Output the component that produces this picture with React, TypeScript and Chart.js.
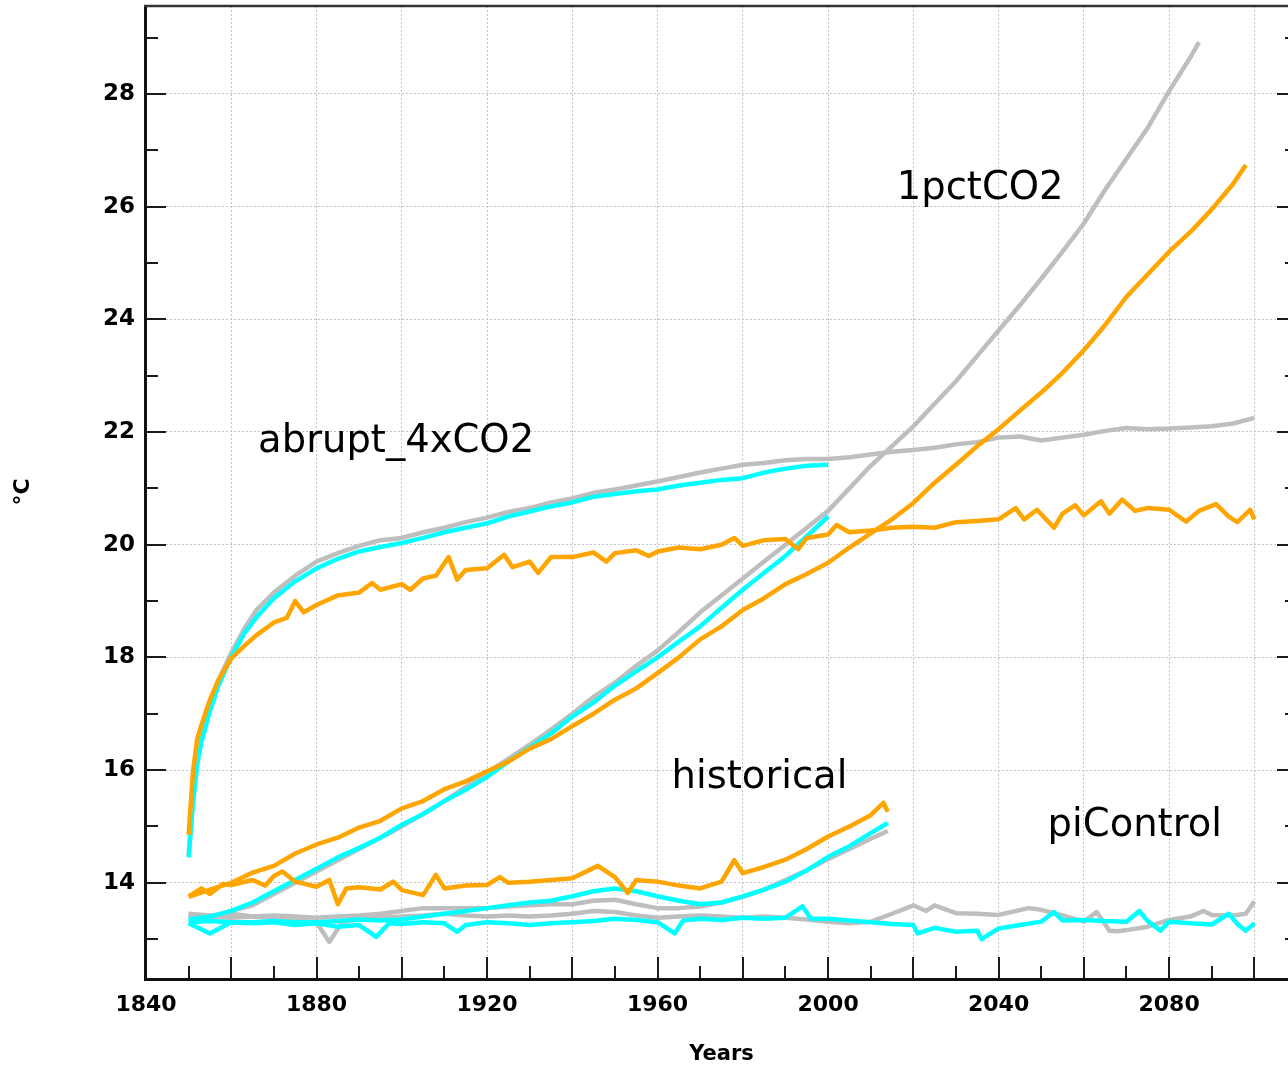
import React, { useEffect, useRef } from "react";
import { Chart, registerables } from "chart.js";

Chart.register(...registerables);

// ---------- data ----------
const years5 = [
  1850, 1855, 1860, 1865, 1870, 1875, 1880, 1885, 1890, 1895, 1900, 1905, 1910, 1915, 1920, 1925, 1930,
  1935, 1940, 1945, 1950, 1955, 1960, 1965, 1970, 1975, 1980, 1985, 1990, 1995, 2000, 2005, 2010, 2015,
  2020, 2025, 2030, 2035, 2040, 2045, 2050, 2055, 2060, 2065, 2070, 2075, 2080, 2085, 2090, 2095, 2100,
];

const yearsAbrupt = [
  1850, 1851, 1852, 1853, 1855, 1857, 1860, 1863, 1866, 1870, 1875, 1880, 1885, 1890, 1895, 1900, 1905,
  1910, 1915, 1920, 1925, 1930, 1935, 1940, 1945, 1950, 1955, 1960, 1965, 1970, 1975, 1980, 1985, 1990,
  1995, 2000, 2005, 2010, 2015, 2020, 2025, 2030, 2035, 2040, 2045, 2050, 2055, 2060, 2065, 2070, 2075,
  2080, 2085, 2090, 2095, 2100,
];

const yearsAbruptOrange = [
  1850, 1851, 1852, 1853, 1855, 1857, 1860, 1863, 1866, 1870, 1873, 1875, 1877, 1880, 1885, 1890, 1893,
  1895, 1900, 1902, 1905, 1908, 1911, 1913, 1915, 1920, 1924, 1926, 1930, 1932, 1935, 1940, 1945, 1948,
  1950, 1955, 1958, 1960, 1965, 1970, 1975, 1978, 1980, 1985, 1990, 1993, 1995, 2000, 2002, 2005, 2010,
  2015, 2020, 2025, 2030, 2035, 2040, 2044, 2046, 2049, 2053, 2055, 2058, 2060, 2064, 2066, 2069, 2072,
  2075, 2080, 2084, 2087, 2091, 2094, 2096, 2099, 2100,
];

const yearsHist = [
  1850, 1855, 1860, 1865, 1870, 1875, 1880, 1885, 1890, 1895, 1900, 1905, 1910, 1915, 1920, 1925, 1930,
  1935, 1940, 1945, 1950, 1955, 1960, 1965, 1970, 1975, 1980, 1985, 1990, 1995, 2000, 2005, 2010, 2014,
];

const yearsHistOrange = [
  1850, 1853, 1855, 1858, 1860, 1865, 1868, 1870, 1872, 1875, 1880, 1883, 1885, 1887, 1890, 1895, 1898,
  1900, 1905, 1908, 1910, 1915, 1920, 1923, 1925, 1930, 1935, 1940, 1946, 1950, 1953, 1955, 1960, 1965,
  1970, 1975, 1978, 1980, 1985, 1990, 1995, 2000, 2005, 2010, 2013, 2014,
];

const yearsPctGrey = [
  1850, 1855, 1860, 1865, 1870, 1875, 1880, 1885, 1890, 1895, 1900, 1905, 1910, 1915, 1920, 1925, 1930,
  1935, 1940, 1945, 1950, 1955, 1960, 1965, 1970, 1975, 1980, 1985, 1990, 1995, 2000, 2005, 2010, 2015,
  2020, 2025, 2030, 2035, 2040, 2045, 2050, 2055, 2060, 2065, 2070, 2075, 2080, 2085, 2087,
];

const yearsPctOrange = [
  1850, 1855, 1860, 1865, 1870, 1875, 1880, 1885, 1890, 1895, 1900, 1905, 1910, 1915, 1920, 1925, 1930,
  1935, 1940, 1945, 1950, 1955, 1960, 1965, 1970, 1975, 1980, 1985, 1990, 1995, 2000, 2005, 2010, 2015,
  2020, 2025, 2030, 2035, 2040, 2045, 2050, 2055, 2060, 2065, 2070, 2075, 2080, 2085, 2090, 2095, 2098,
];

const yearsPiCyan = [
  1850, 1855, 1860, 1865, 1870, 1875, 1880, 1885, 1890, 1894, 1897, 1900, 1905, 1910, 1913, 1915, 1920,
  1925, 1930, 1935, 1940, 1945, 1950, 1955, 1960, 1964, 1966, 1970, 1975, 1980, 1985, 1990, 1994, 1996,
  2000, 2005, 2010, 2015, 2020, 2021, 2025, 2030, 2035, 2036, 2040, 2045, 2050, 2053, 2055, 2060, 2065,
  2070, 2073, 2075, 2078, 2080, 2085, 2090, 2094, 2096, 2098, 2100,
];

const yearsPiGrey = [
  1850, 1855, 1860, 1865, 1870, 1875, 1880, 1883, 1886, 1890, 1895, 1900, 1905, 1910, 1915, 1920, 1925,
  1930, 1935, 1940, 1945, 1950, 1955, 1960, 1965, 1970, 1975, 1980, 1985, 1990, 1995, 2000, 2005, 2010,
  2015, 2020, 2023, 2025, 2030, 2035, 2040, 2047, 2050, 2055, 2060, 2063, 2066, 2068, 2070, 2075, 2080,
  2085, 2088, 2090, 2095, 2098, 2100,
];

// abrupt_4xCO2
const abruptOrange = [
  14.85, 15.95, 16.55, 16.8, 17.25, 17.6, 17.98, 18.2, 18.4, 18.62, 18.7, 19.0, 18.8, 18.93, 19.1, 19.15,
  19.32, 19.2, 19.3, 19.2, 19.4, 19.45, 19.78, 19.38, 19.55, 19.58, 19.82, 19.6, 19.7, 19.5, 19.78, 19.78,
  19.86, 19.7, 19.85, 19.9, 19.8, 19.88, 19.95, 19.92, 20.0, 20.12, 19.98, 20.08, 20.1, 19.92, 20.12, 20.18,
  20.35, 20.22, 20.25, 20.3, 20.32, 20.3, 20.4, 20.42, 20.45, 20.65, 20.45, 20.62, 20.3, 20.55, 20.7, 20.52,
  20.77, 20.55, 20.8, 20.6, 20.65, 20.62, 20.41, 20.6, 20.72, 20.5, 20.4, 20.62, 20.45,
];
const abruptCyan = [
  14.45, 15.4, 16.1, 16.5, 17.05, 17.5, 18.0, 18.42, 18.72, 19.05, 19.35, 19.58, 19.75, 19.88, 19.96, 20.03,
  20.12, 20.22, 20.3, 20.38, 20.5, 20.59, 20.68, 20.75, 20.85, 20.9, 20.95, 20.98, 21.05, 21.1, 21.15, 21.18,
  21.28, 21.35, 21.4, 21.42,
];
const abruptGrey = [
  14.5, 15.5, 16.2, 16.6, 17.15, 17.6, 18.08, 18.5, 18.85, 19.15, 19.45, 19.7, 19.85, 19.98, 20.08, 20.12,
  20.22, 20.3, 20.4, 20.48, 20.58, 20.65, 20.75, 20.82, 20.92, 20.98, 21.05, 21.12, 21.2, 21.28, 21.35, 21.42,
  21.45, 21.5, 21.52, 21.52, 21.55, 21.6, 21.65, 21.68, 21.72, 21.78, 21.82, 21.9, 21.92, 21.85, 21.9, 21.95,
  22.02, 22.07, 22.05, 22.06, 22.08, 22.1, 22.15, 22.25,
];

// 1pctCO2
const pctOrange = [
  13.75, 13.88, 14.0, 14.18, 14.3, 14.52, 14.68, 14.8, 14.98, 15.1, 15.32, 15.45, 15.66, 15.8, 15.98, 16.15,
  16.38, 16.55, 16.78, 17.0, 17.25, 17.45, 17.72, 18.0, 18.32, 18.55, 18.84, 19.05, 19.3, 19.48, 19.68, 19.95,
  20.2, 20.45, 20.74, 21.1, 21.42, 21.75, 22.05, 22.38, 22.7, 23.05, 23.45, 23.9, 24.4, 24.8, 25.2, 25.55,
  25.95, 26.4, 26.74,
];
const pctCyan = [
  13.35, 13.4, 13.5, 13.65, 13.85, 14.05, 14.25, 14.45, 14.62, 14.8, 15.03, 15.22, 15.45, 15.65, 15.88, 16.15,
  16.4, 16.65, 16.95, 17.2, 17.5, 17.75, 18.0, 18.28, 18.55, 18.88, 19.2, 19.5, 19.8, 20.15, 20.5,
];
const pctGrey = [
  13.4, 13.38, 13.5, 13.6, 13.8, 14.0, 14.2, 14.4, 14.6, 14.8, 15.0, 15.22, 15.45, 15.7, 15.95, 16.2, 16.45,
  16.72, 17.0, 17.3, 17.55, 17.85, 18.12, 18.45, 18.8, 19.1, 19.4, 19.7, 20.0, 20.3, 20.6, 21.0, 21.4, 21.75,
  22.1, 22.5, 22.9, 23.35, 23.8, 24.25, 24.72, 25.2, 25.7, 26.3, 26.85, 27.4, 28.05, 28.65, 28.92,
];

// historical
const histOrange = [
  13.76, 13.9, 13.8, 13.98, 13.96, 14.05, 13.95, 14.12, 14.2, 14.02, 13.93, 14.05, 13.62, 13.9, 13.92, 13.88,
  14.02, 13.87, 13.78, 14.14, 13.9, 13.95, 13.96, 14.1, 14.0, 14.02, 14.05, 14.08, 14.3, 14.1, 13.82, 14.05,
  14.02, 13.95, 13.9, 14.02, 14.4, 14.17, 14.28, 14.41, 14.6, 14.82, 15.0, 15.2, 15.42, 15.26,
];
const histCyan = [
  13.3, 13.32, 13.3, 13.3, 13.32, 13.3, 13.3, 13.32, 13.35, 13.33, 13.35, 13.4, 13.45, 13.5, 13.55, 13.6,
  13.65, 13.68, 13.76, 13.85, 13.9, 13.85, 13.76, 13.68, 13.62, 13.65, 13.76, 13.88, 14.02, 14.22, 14.46,
  14.65, 14.88, 15.06,
];
const histGrey = [
  13.45, 13.42, 13.45, 13.4, 13.42, 13.4, 13.38, 13.4, 13.42, 13.45, 13.5, 13.55, 13.55, 13.55, 13.55, 13.58,
  13.6, 13.62, 13.62, 13.68, 13.7, 13.62, 13.55, 13.55, 13.58, 13.65, 13.75, 13.88, 14.05, 14.22, 14.42,
  14.6, 14.78, 14.92,
];

// piControl
const piCyan = [
  13.28, 13.1, 13.3, 13.28, 13.3, 13.25, 13.28, 13.22, 13.25, 13.04, 13.28, 13.27, 13.3, 13.28, 13.13, 13.25,
  13.3, 13.28, 13.25, 13.28, 13.3, 13.32, 13.36, 13.34, 13.3, 13.1, 13.33, 13.36, 13.34, 13.38, 13.36, 13.38,
  13.58, 13.36, 13.36, 13.33, 13.3, 13.27, 13.25, 13.1, 13.2, 13.13, 13.15, 13.0, 13.19, 13.25, 13.31,
  13.48, 13.33, 13.34, 13.32, 13.31, 13.5, 13.32, 13.15, 13.31, 13.28, 13.26, 13.45, 13.27, 13.15, 13.28,
];
const piGrey = [
  13.42, 13.4, 13.38, 13.4, 13.38, 13.35, 13.3, 12.95, 13.3, 13.35, 13.38, 13.4, 13.42, 13.45, 13.42, 13.4,
  13.42, 13.4, 13.42, 13.45, 13.5, 13.48, 13.42, 13.38, 13.4, 13.42, 13.4, 13.38, 13.4, 13.38, 13.35, 13.31,
  13.28, 13.31, 13.45, 13.6, 13.5, 13.6, 13.46, 13.45, 13.43, 13.55, 13.52, 13.42, 13.31, 13.48, 13.15,
  13.14, 13.16, 13.22, 13.34, 13.4, 13.5, 13.43, 13.42, 13.45, 13.67,
];

// axes
const xGridYears = [1840, 1860, 1880, 1900, 1920, 1940, 1960, 1980, 2000, 2020, 2040, 2060, 2080, 2100];
const xTickMarks = [
  1850, 1860, 1870, 1880, 1890, 1900, 1910, 1920, 1930, 1940, 1950, 1960, 1970, 1980, 1990, 2000, 2010, 2020,
  2030, 2040, 2050, 2060, 2070, 2080, 2090, 2100,
];
const yGridValues = [14, 16, 18, 20, 22, 24, 26, 28];
const yTickMarks = [13, 14, 15, 16, 17, 18, 19, 20, 21, 22, 23, 24, 25, 26, 27, 28, 29];

// labels on the plot
const annoTexts = ["1pctCO2", "abrupt_4xCO2", "historical", "piControl"];
const annoYears = [2016.1, 1866.3, 1963.3, 2051.5];
const annoValues = [26.14, 21.65, 15.68, 14.83];

const ORANGE = "#ffa500";
const CYAN = "#00ffff";
const GREY = "#bebebe";

function zip(xs: number[], ys: number[]) {
  return ys.map((v, i) => ({ x: xs[i], y: v }));
}

function ds(label: string, xs: number[], ys: number[], color: string, order: number) {
  return {
    label,
    data: zip(xs, ys),
    borderColor: color,
    backgroundColor: color,
    borderWidth: 4.5,
    pointRadius: 0,
    tension: 0,
    fill: false,
    borderJoinStyle: "round",
    order,
  };
}

const framePlugin = {
  id: "frame",
  afterDatasetsDraw(chart: any) {
    const { ctx, chartArea: a, scales } = chart;
    const xs = scales.x;
    const ys = scales.y;
    ctx.save();
    ctx.strokeStyle = "#1a1a1a";
    ctx.lineWidth = 2;
    ctx.beginPath();
    xTickMarks.forEach((yr) => {
      const px = Math.round(xs.getPixelForValue(yr));
      const len = yr % 20 === 0 ? 21 : 12;
      ctx.moveTo(px, a.bottom);
      ctx.lineTo(px, a.bottom - len);
    });
    yTickMarks.forEach((v) => {
      const py = Math.round(ys.getPixelForValue(v));
      const len = v % 2 === 0 ? 20 : 12;
      ctx.moveTo(a.left, py);
      ctx.lineTo(a.left + len, py);
      ctx.moveTo(a.right, py);
      ctx.lineTo(a.right - len, py);
    });
    ctx.stroke();

    // frame
    ctx.lineWidth = 3;
    ctx.strokeStyle = "#111";
    ctx.beginPath();
    ctx.moveTo(a.left - 0.5, a.top);
    ctx.lineTo(a.left - 0.5, a.bottom + 1.5);
    ctx.lineTo(a.right, a.bottom + 1.5);
    ctx.lineTo(a.right, a.top);
    ctx.stroke();
    ctx.lineWidth = 2.5;
    ctx.strokeStyle = "#333";
    ctx.beginPath();
    ctx.moveTo(a.left - 2, a.top);
    ctx.lineTo(a.right, a.top);
    ctx.stroke();

    // plot labels
    ctx.fillStyle = "#000";
    ctx.font = '38.5px "DejaVu Sans"';
    ctx.textAlign = "left";
    ctx.textBaseline = "alphabetic";
    annoTexts.forEach((t, i) => {
      ctx.fillText(t, xs.getPixelForValue(annoYears[i]), ys.getPixelForValue(annoValues[i]));
    });
    ctx.restore();
  },
};

export default function App() {
  const ref = useRef<HTMLCanvasElement>(null);
  useEffect(() => {
    const canvas = ref.current;
    if (!canvas) return;
    const xTickFont = { family: "DejaVu Sans", weight: "bold" as const, size: 22 };
    const yTickFont = { family: "DejaVu Sans", weight: "bold" as const, size: 23 };
    const chart = new Chart(canvas, {
      type: "line",
      data: {
        datasets: [
          ds("abrupt_4xCO2 orange", yearsAbruptOrange, abruptOrange, ORANGE, 1),
          ds("1pctCO2 orange", yearsPctOrange, pctOrange, ORANGE, 1),
          ds("historical orange", yearsHistOrange, histOrange, ORANGE, 1),
          ds("abrupt_4xCO2 cyan", yearsAbrupt, abruptCyan, CYAN, 2),
          ds("1pctCO2 cyan", years5, pctCyan, CYAN, 2),
          ds("historical cyan", yearsHist, histCyan, CYAN, 2),
          ds("piControl cyan", yearsPiCyan, piCyan, CYAN, 2),
          ds("abrupt_4xCO2 grey", yearsAbrupt, abruptGrey, GREY, 3),
          ds("1pctCO2 grey", yearsPctGrey, pctGrey, GREY, 3),
          ds("historical grey", yearsHist, histGrey, GREY, 3),
          ds("piControl grey", yearsPiGrey, piGrey, GREY, 3),
        ] as any,
      },
      options: {
        responsive: false,
        animation: false,
        events: [],
        layout: { padding: { top: 6, right: 3, left: 0, bottom: 0 } },
        plugins: { legend: { display: false }, tooltip: { enabled: false } },
        scales: {
          x: {
            type: "linear",
            min: 1840,
            max: 2110,
            afterFit: (s: any) => {
              s.height = 91;
              s.paddingLeft = 0;
              s.paddingRight = 0;
            },
            afterBuildTicks: (s: any) => {
              s.ticks = xGridYears.map((v) => ({ value: v }));
            },
            grid: { color: "#c4c4c4", lineWidth: 1, drawTicks: false },
            border: { display: false, dash: [2, 2] },
            ticks: {
              autoSkip: false,
              maxRotation: 0,
              padding: 14,
              color: "#000",
              font: xTickFont,
              callback: (v: any) => (Number(v) % 40 === 0 ? String(v) : ""),
            },
            title: {
              display: true,
              text: "Years",
              color: "#000",
              font: { family: "DejaVu Sans", weight: "bold", size: 21 },
              padding: { top: 0, bottom: 2 },
            },
          },
          y: {
            type: "linear",
            min: 12.31,
            max: 29.56,
            afterFit: (s: any) => {
              s.width = 146;
              s.paddingTop = 0;
              s.paddingBottom = 0;
            },
            afterBuildTicks: (s: any) => {
              s.ticks = yGridValues.map((v) => ({ value: v }));
            },
            grid: { color: "#c4c4c4", lineWidth: 1, drawTicks: false },
            border: { display: false, dash: [2, 2] },
            ticks: {
              autoSkip: false,
              padding: 11,
              color: "#000",
              font: yTickFont,
              callback: (v: any) => String(v),
            },
            title: {
              display: true,
              text: "°C",
              color: "#000",
              font: { family: "DejaVu Sans", weight: "bold", size: 22 },
              padding: { top: 10, bottom: 0 },
            },
          },
        },
      },
      plugins: [framePlugin],
    });
    return () => chart.destroy();
  }, []);

  return (
    <div
      style={{
        position: "absolute",
        left: 0,
        top: 0,
        width: 1288,
        height: 1069,
        overflow: "hidden",
        background: "#fff",
      }}
    >
      <canvas ref={ref} width={1300} height={1069} style={{ display: "block" }} />
    </div>
  );
}
